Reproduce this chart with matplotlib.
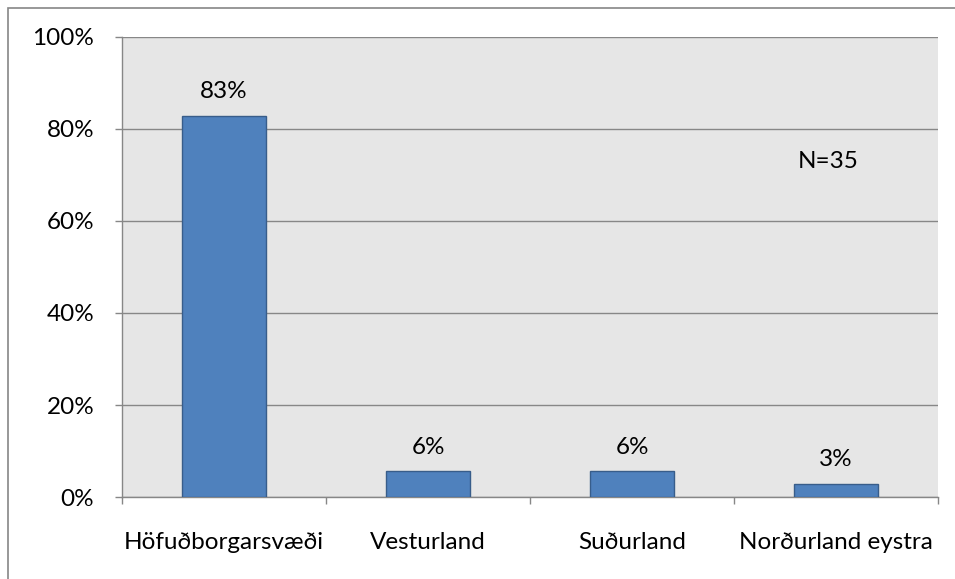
import matplotlib
matplotlib.use("Agg")
import matplotlib.pyplot as plt
from matplotlib.patches import Rectangle
from matplotlib.ticker import FixedLocator, PercentFormatter

categories = ["Höfuðborgarsvæði", "Vesturland", "Suðurland", "Norðurland eystra"]
values = [82.9, 5.7, 5.7, 2.9]
labels = ["83%", "6%", "6%", "3%"]
yticks = [0, 20, 40, 60, 80, 100]
note = "N=35"

plt.rcParams['font.family'] = ['Lato', 'DejaVu Sans']
FS = 17.5
fig = plt.figure(figsize=(9.55, 5.79), dpi=100)
fig.patch.set_facecolor('white')
fig.add_artist(Rectangle((8/955, -10/579), 1.0, (579-8+10)/579,
                         transform=fig.transFigure, fill=False,
                         edgecolor='#868686', linewidth=1.2))

ax = fig.add_axes([122/955, 1-497/579, (938-122)/955, (497-37)/579])
ax.set_facecolor('#e6e6e6')
x = list(range(len(categories)))
ax.bar(x, values, width=0.41, color='#4f81bd', edgecolor='#385d8a', linewidth=1, zorder=3)
ax.set_xlim(-0.5, len(categories)-0.5)
ax.set_ylim(0, 100)
ax.set_yticks(yticks)
ax.yaxis.set_major_formatter(PercentFormatter(decimals=0))
ax.grid(axis='y', color='#878787', linewidth=1, zorder=1)
ax.set_xticks(x)
ax.set_xticklabels(categories, fontsize=FS)
ax.tick_params(axis='x', length=0, pad=25)
ax.xaxis.set_minor_locator(FixedLocator([i + 0.5 for i in range(-1, len(categories))]))
ax.tick_params(axis='x', which='minor', length=5, color='#878787', width=1)
ax.tick_params(axis='y', labelsize=FS, length=5, color='#878787', width=1, pad=15)
for s in ['top', 'right']:
    ax.spines[s].set_visible(False)
for s in ['left', 'bottom']:
    ax.spines[s].set_color('#878787')
    ax.spines[s].set_linewidth(1)
for xi, v, lab in zip(x, values, labels):
    ax.annotate(lab, (xi, v), xytext=(0, 9.5), textcoords='offset points',
                ha='center', va='bottom', fontsize=FS)
ax.text(3 - 0.04, 73, note, ha='center', va='center', fontsize=FS)

fig.savefig('out.png', dpi=100)
